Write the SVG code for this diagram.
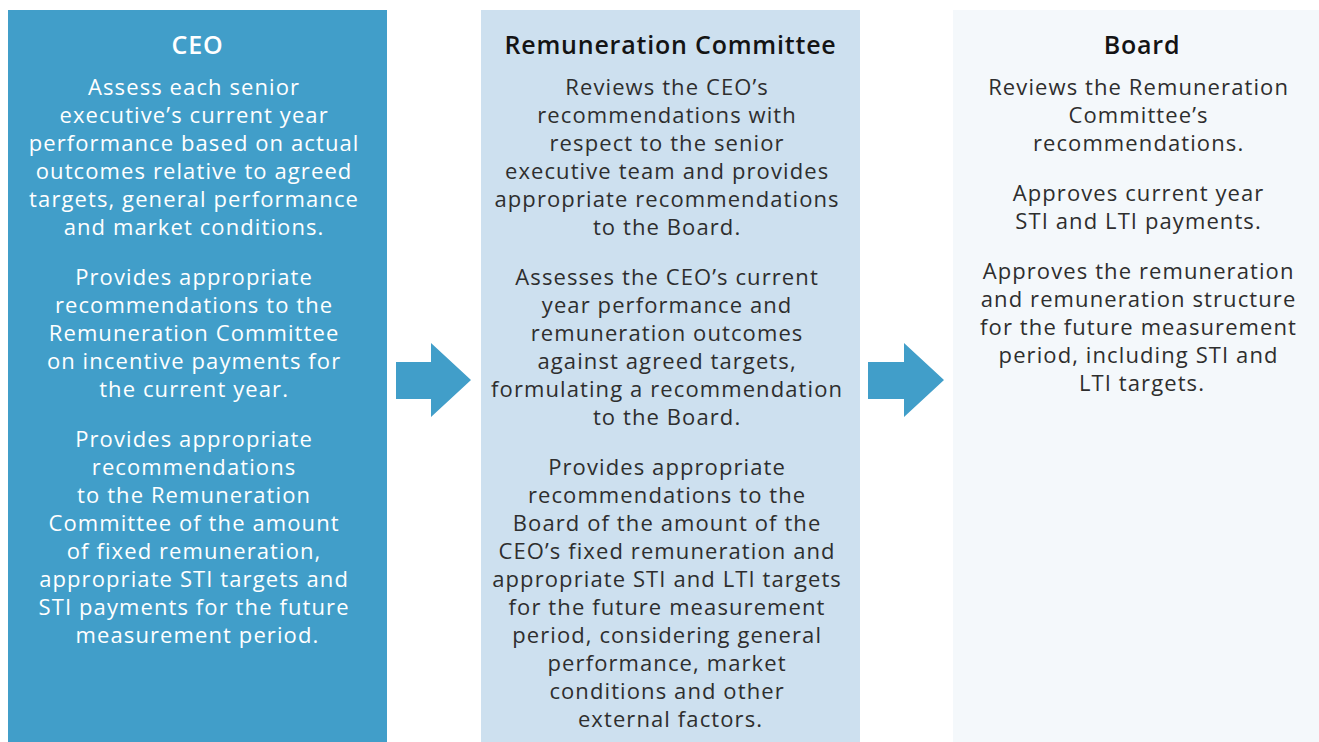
<svg xmlns="http://www.w3.org/2000/svg" width="1319" height="742" viewBox="0 0 1319 742">
<style>
text{font-family:"Open Sans","Liberation Sans",sans-serif;text-anchor:middle}
.t{font-size:25px;font-weight:600;letter-spacing:0.8px}
.b{font-size:22px;letter-spacing:1.1px}
.w{fill:#ffffff}
.d{fill:#2e2e2e}
.k{fill:#141414}
.arrow{fill:#419ec9}
</style>
<rect width="1319" height="742" fill="#ffffff"/>
<g id="ceo">
<rect x="8" y="10" width="379" height="732" fill="#419ec9"/>
<text class="t w" x="197.5" y="54">CEO</text>
<text class="b w" x="197.5">
<tspan x="197.5" y="95">Assess each senior</tspan>
<tspan x="197.5" y="123">executive’s current year</tspan>
<tspan x="197.5" y="151">performance based on actual</tspan>
<tspan x="197.5" y="179">outcomes relative to agreed</tspan>
<tspan x="197.5" y="207">targets, general performance</tspan>
<tspan x="197.5" y="235">and market conditions.</tspan>
<tspan x="197.5" y="285">Provides appropriate</tspan>
<tspan x="197.5" y="313">recommendations to the</tspan>
<tspan x="197.5" y="341">Remuneration Committee</tspan>
<tspan x="197.5" y="369">on incentive payments for</tspan>
<tspan x="197.5" y="397">the current year.</tspan>
<tspan x="197.5" y="447">Provides appropriate</tspan>
<tspan x="197.5" y="475">recommendations</tspan>
<tspan x="197.5" y="503">to the Remuneration</tspan>
<tspan x="197.5" y="531">Committee of the amount</tspan>
<tspan x="197.5" y="559">of fixed remuneration,</tspan>
<tspan x="197.5" y="587">appropriate STI targets and</tspan>
<tspan x="197.5" y="615">STI payments for the future</tspan>
<tspan x="197.5" y="643">measurement period.</tspan>
</text>
</g>
<g id="remco">
<rect x="481" y="10" width="379" height="732" fill="#cde0ef"/>
<text class="t k" x="670.5" y="54">Remuneration Committee</text>
<text class="b d" x="670.5">
<tspan x="670.5" y="95">Reviews the CEO’s</tspan>
<tspan x="670.5" y="123">recommendations with</tspan>
<tspan x="670.5" y="151">respect to the senior</tspan>
<tspan x="670.5" y="179">executive team and provides</tspan>
<tspan x="670.5" y="207">appropriate recommendations</tspan>
<tspan x="670.5" y="235">to the Board.</tspan>
<tspan x="670.5" y="285">Assesses the CEO’s current</tspan>
<tspan x="670.5" y="313">year performance and</tspan>
<tspan x="670.5" y="341">remuneration outcomes</tspan>
<tspan x="670.5" y="369">against agreed targets,</tspan>
<tspan x="670.5" y="397">formulating a recommendation</tspan>
<tspan x="670.5" y="425">to the Board.</tspan>
<tspan x="670.5" y="475">Provides appropriate</tspan>
<tspan x="670.5" y="503">recommendations to the</tspan>
<tspan x="670.5" y="531">Board of the amount of the</tspan>
<tspan x="670.5" y="559">CEO’s fixed remuneration and</tspan>
<tspan x="670.5" y="587">appropriate STI and LTI targets</tspan>
<tspan x="670.5" y="615">for the future measurement</tspan>
<tspan x="670.5" y="643">period, considering general</tspan>
<tspan x="670.5" y="671">performance, market</tspan>
<tspan x="670.5" y="699">conditions and other</tspan>
<tspan x="670.5" y="727">external factors.</tspan>
</text>
</g>
<g id="board">
<rect x="953" y="10" width="366" height="732" fill="#f4f8fb"/>
<text class="t k" x="1142" y="54">Board</text>
<text class="b d" x="1142">
<tspan x="1142" y="95">Reviews the Remuneration</tspan>
<tspan x="1142" y="123">Committee’s</tspan>
<tspan x="1142" y="151">recommendations.</tspan>
<tspan x="1142" y="201">Approves current year</tspan>
<tspan x="1142" y="229">STI and LTI payments.</tspan>
<tspan x="1142" y="279">Approves the remuneration</tspan>
<tspan x="1142" y="307">and remuneration structure</tspan>
<tspan x="1142" y="335">for the future measurement</tspan>
<tspan x="1142" y="363">period, including STI and</tspan>
<tspan x="1142" y="391">LTI targets.</tspan>
</text>
</g>
<g id="connectors">
<polygon class="arrow" points="396,362 431,362 431,343 471,380 431,417 431,399 396,399"/>
<polygon class="arrow" points="868,362 904,362 904,343 944,380 904,417 904,399 868,399"/>
</g>
</svg>
